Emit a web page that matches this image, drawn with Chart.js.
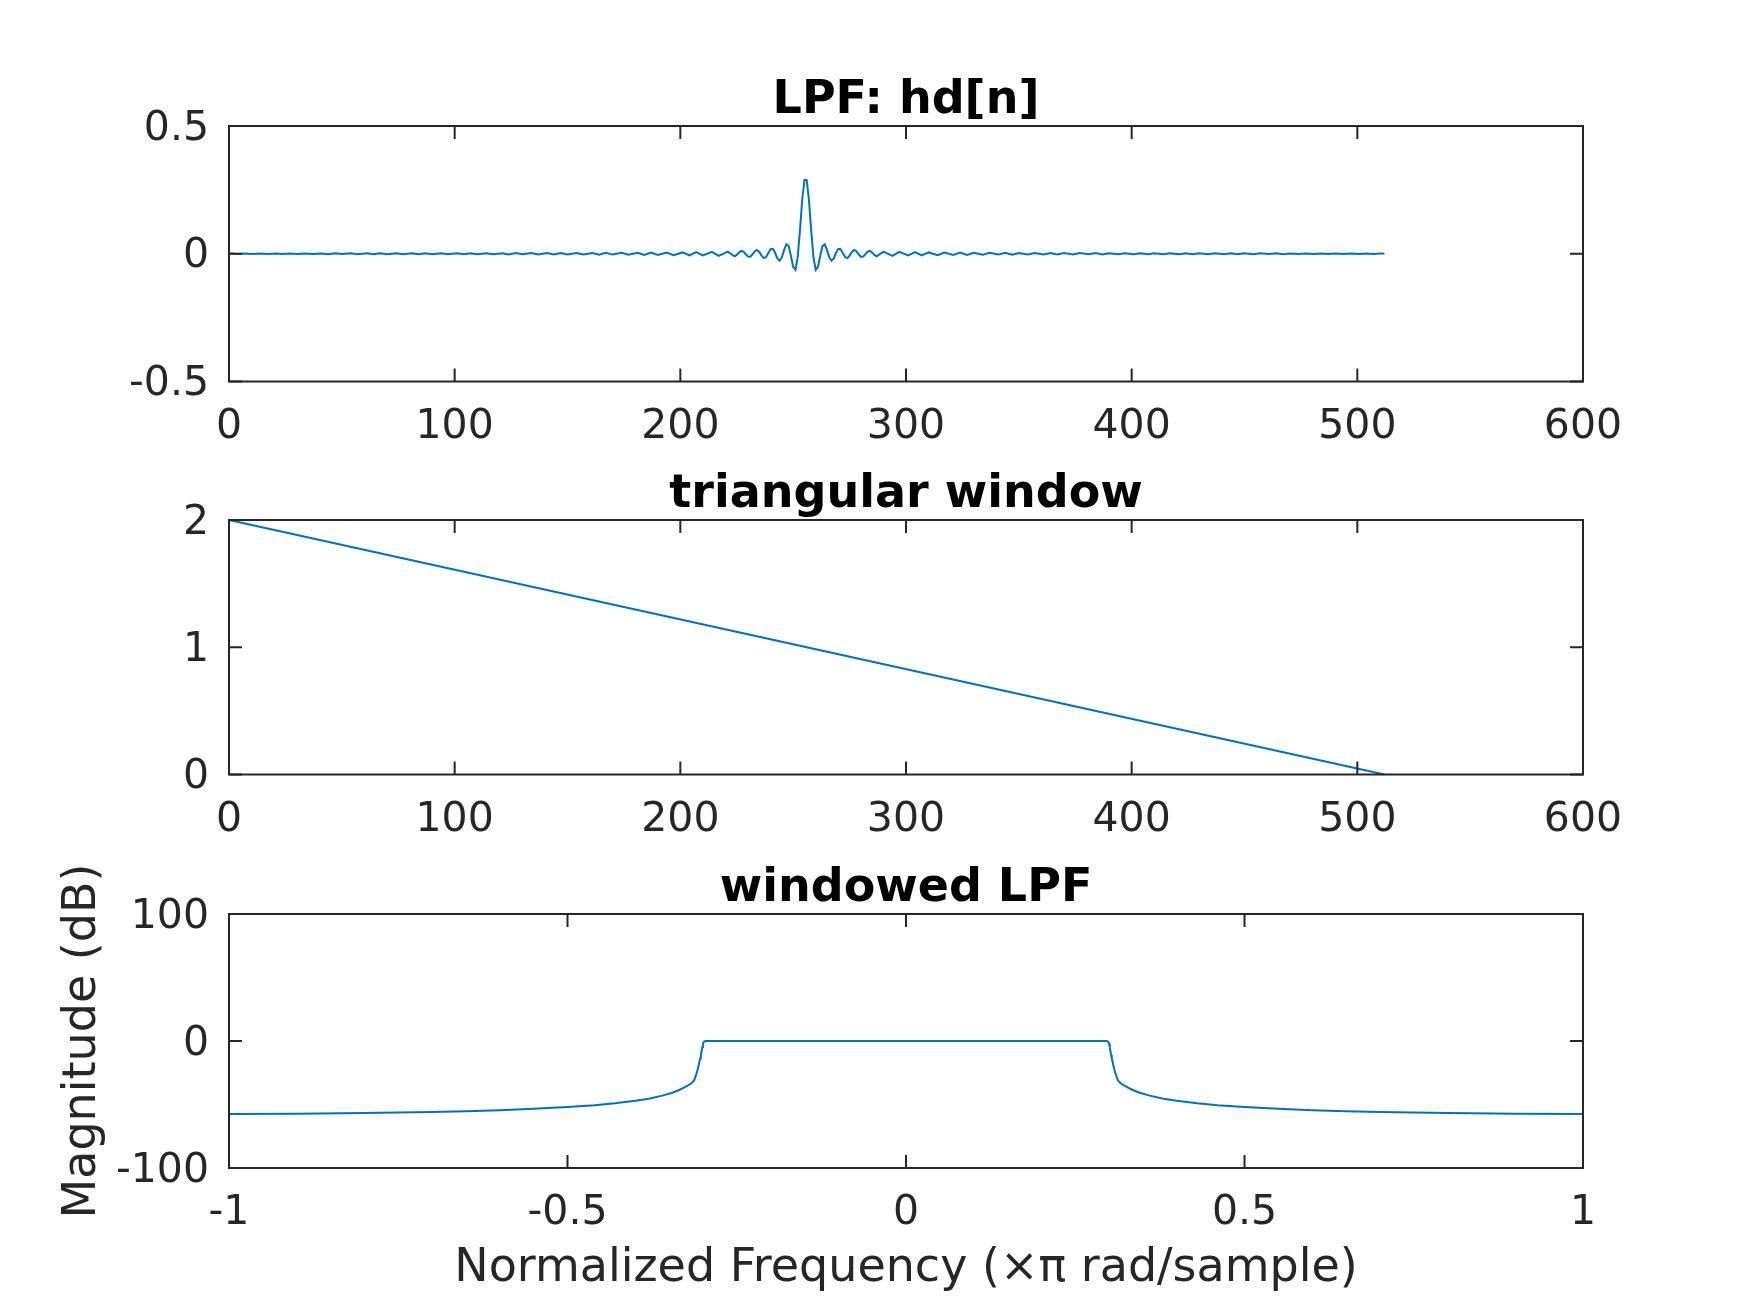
<!DOCTYPE html>
<html>
<head>
<meta charset="utf-8">
<script src="https://cdn.jsdelivr.net/npm/chart.js@4.4.1/dist/chart.umd.min.js"></script>
<style>
  html, body { margin: 0; padding: 0; background: #fff; }
  body { width: 1750px; height: 1313px; position: relative; overflow: hidden; }
  canvas { position: absolute; left: 0; top: 0; }
</style>
</head>
<body>
<canvas id="hdChart" width="1750" height="1313"></canvas>
<canvas id="winChart" width="1750" height="1313"></canvas>
<canvas id="respChart" width="1750" height="1313"></canvas>
<script>
// LPF hd[n]: sample index and value
// (centre sits between n=255 and n=256)
const hdN = [
    0, 1, 4, 7, 10, 14, 17, 21, 24, 27,
    30, 34, 37, 41, 44, 47, 50, 54, 57, 61,
    64, 67, 70, 74, 77, 81, 84, 87, 90, 94,
    97, 101, 104, 107, 110, 114, 117, 121, 124, 127,
    130, 134, 137, 141, 144, 147, 150, 154, 157, 161,
    164, 167, 170, 174, 177, 181, 184, 187, 190, 194,
    197, 201, 204, 207, 210, 214, 217, 221, 224,
    225, 226, 227, 228, 229, 230, 231, 232, 233, 234,
    235, 236, 237, 238, 239, 240, 241, 242, 243, 244,
    245, 246, 247, 248, 249, 250, 251, 252, 253, 254, 255,
    256, 257, 258, 259, 260, 261, 262, 263, 264, 265,
    266, 267, 268, 269, 270, 271, 272, 273, 274, 275,
    276, 277, 278, 279, 280, 281, 282, 283, 284, 285, 286,
    287, 290, 294, 297, 301, 304, 307, 310, 314, 317,
    321, 324, 327, 330, 334, 337, 341, 344, 347, 350,
    354, 357, 361, 364, 367, 370, 374, 377, 381, 384,
    387, 390, 394, 397, 401, 404, 407, 410, 414, 417,
    421, 424, 427, 430, 434, 437, 441, 444, 447, 450,
    454, 457, 461, 464, 467, 470, 474, 477, 481, 484,
    487, 490, 494, 497, 501, 504, 507, 510, 511, 512
];
const hdVal = [
    0.0011, 0.0011, -0.0013, 0.0013, -0.0012, 0.0013, -0.0013, 0.0012, -0.0014, 0.0014,
    -0.0013, 0.0014, -0.0014, 0.0013, -0.0015, 0.0015, -0.0014, 0.0016, -0.0016, 0.0015,
    -0.0016, 0.0017, -0.0015, 0.0017, -0.0018, 0.0016, -0.0018, 0.0019, -0.0017, 0.0019,
    -0.0020, 0.0018, -0.0021, 0.0021, -0.0019, 0.0022, -0.0023, 0.0021, -0.0024, 0.0024,
    -0.0023, 0.0026, -0.0027, 0.0025, -0.0028, 0.0029, -0.0027, 0.0031, -0.0032, 0.0030,
    -0.0034, 0.0036, -0.0033, 0.0039, -0.0040, 0.0038, -0.0044, 0.0046, -0.0043, 0.0051,
    -0.0054, 0.0052, -0.0061, 0.0065, -0.0062, 0.0076, -0.0082, 0.0082, -0.0100,
    -0.0047, 0.0049, 0.0110, 0.0082, -0.0019, -0.0111, -0.0116, -0.0021, 0.0100, 0.0146,
    0.0070, -0.0074, -0.0170, -0.0129, 0.0030, 0.0183, 0.0196, 0.0037, -0.0180, -0.0273,
    -0.0138, 0.0152, 0.0370, 0.0300, -0.0077, -0.0516, -0.0630, -0.0142, 0.0900, 0.2096, 0.2890,
    0.2890, 0.2096, 0.0900, -0.0142, -0.0630, -0.0516, -0.0077, 0.0300, 0.0370, 0.0152,
    -0.0138, -0.0273, -0.0180, 0.0037, 0.0196, 0.0183, 0.0030, -0.0129, -0.0170, -0.0074,
    0.0070, 0.0146, 0.0100, -0.0021, -0.0116, -0.0111, -0.0019, 0.0082, 0.0110, 0.0049, -0.0047,
    -0.0100, 0.0082, -0.0082, 0.0076, -0.0062, 0.0065, -0.0061, 0.0052, -0.0054, 0.0051,
    -0.0043, 0.0046, -0.0044, 0.0038, -0.0040, 0.0039, -0.0033, 0.0036, -0.0034, 0.0030,
    -0.0032, 0.0031, -0.0027, 0.0029, -0.0028, 0.0025, -0.0027, 0.0026, -0.0023, 0.0024,
    -0.0024, 0.0021, -0.0023, 0.0022, -0.0019, 0.0021, -0.0021, 0.0018, -0.0020, 0.0019,
    -0.0017, 0.0019, -0.0018, 0.0016, -0.0018, 0.0017, -0.0015, 0.0017, -0.0016, 0.0015,
    -0.0016, 0.0016, -0.0014, 0.0015, -0.0015, 0.0013, -0.0014, 0.0014, -0.0013, 0.0014,
    -0.0014, 0.0012, -0.0013, 0.0013, -0.0012, 0.0013, -0.0013, 0.0011, 0.0011, 0.0002
];

// triangular window: straight line from n=0 to n=512
const winN = [0, 512];
const winVal = [2, 0];

// windowed LPF magnitude response (dB) against normalized frequency
const freqX = [
    -1, -0.9, -0.8, -0.7, -0.65, -0.6, -0.55, -0.5, -0.46, -0.43,
    -0.4, -0.38, -0.36, -0.345, -0.335, -0.328, -0.322, -0.317, -0.313, -0.31,
    -0.308, -0.306, -0.304, -0.303, -0.302, -0.301, -0.3, -0.2985, -0.2965,
    0.2965, 0.2985, 0.3, 0.301, 0.302, 0.303, 0.304, 0.306, 0.308,
    0.31, 0.313, 0.317, 0.322, 0.328, 0.335, 0.345, 0.36, 0.38, 0.4,
    0.43, 0.46, 0.5, 0.55, 0.6, 0.65, 0.7, 0.8, 0.9, 1
];
const magDb = [
    -57.5, -57.2, -56.7, -55.9, -55.3, -54.5, -53.4, -52, -50.5, -49,
    -47.1, -45.4, -43, -40.7, -38.6, -36.8, -35, -33.3, -31, -26.5,
    -23, -18.5, -13.5, -11, -8, -5, -2, -0.8, 0,
    0, -0.8, -2, -5, -8, -11, -13.5, -18.5, -23,
    -26.5, -31, -33.3, -35, -36.8, -38.6, -40.7, -43, -45.4, -47.1,
    -49, -50.5, -52, -53.4, -54.5, -55.3, -55.9, -56.7, -57.2, -57.5
];

const hdTicksX = [0, 100, 200, 300, 400, 500, 600];
const hdTicksY = [-0.5, 0, 0.5];
const winTicksY = [0, 1, 2];
const respTicksX = [-1, -0.5, 0, 0.5, 1];
const respTicksY = [-100, 0, 100];

const lineColor = "#0072BD";
const axisColor = "#262626";
const fontFamily = "'DejaVu Sans', 'Liberation Sans', sans-serif";

function toPoints(xs, ys) {
    return xs.map((x, i) => ({ x: x, y: ys[i] }));
}

// MATLAB style box with inward ticks on all four sides
const boxPlugin = {
    id: "matBox",
    afterDraw(chart) {
        const ctx = chart.ctx;
        const a = chart.chartArea;
        const xs = chart.scales.x;
        const ys = chart.scales.y;
        const len = 13;
        ctx.save();
        ctx.strokeStyle = axisColor;
        ctx.lineWidth = 2;
        ctx.beginPath();
        xs.ticks.forEach(t => {
            const px = xs.getPixelForValue(t.value);
            ctx.moveTo(px, a.bottom);
            ctx.lineTo(px, a.bottom - len);
            ctx.moveTo(px, a.top);
            ctx.lineTo(px, a.top + len);
        });
        ys.ticks.forEach(t => {
            const py = ys.getPixelForValue(t.value);
            ctx.moveTo(a.left, py);
            ctx.lineTo(a.left + len, py);
            ctx.moveTo(a.right, py);
            ctx.lineTo(a.right - len, py);
        });
        ctx.stroke();
        ctx.strokeRect(a.left, a.top, a.right - a.left, a.bottom - a.top);
        ctx.restore();
    }
};

function makePanel(id, cfg) {
    const ctx = document.getElementById(id).getContext("2d");
    return new Chart(ctx, {
        type: "line",
        data: {
            datasets: [{
                data: toPoints(cfg.xs, cfg.ys),
                borderColor: lineColor,
                borderWidth: 2,
                pointRadius: 0,
                tension: 0,
                fill: false,
                clip: 3,
            }]
        },
        options: {
            responsive: false,
            animation: false,
            events: [],
            layout: {
                padding: { left: 0, right: 167, top: cfg.padTop, bottom: cfg.padBottom }
            },
            plugins: {
                legend: { display: false },
                tooltip: { enabled: false },
                title: {
                    display: true,
                    text: cfg.title,
                    fullSize: false,
                    color: "#000",
                    font: { family: fontFamily, size: 46, weight: "bold", lineHeight: 1.0 },
                    padding: { top: 0, bottom: 2 },
                }
            },
            scales: {
                x: {
                    type: "linear",
                    min: cfg.xMin,
                    max: cfg.xMax,
                    afterBuildTicks: s => { s.ticks = cfg.xTicks.map(v => ({ value: v })); },
                    afterFit: s => { s.height = cfg.xHeight; },
                    grid: { display: false, drawTicks: false },
                    border: { display: false },
                    ticks: {
                        autoSkip: false,
                        maxRotation: 0,
                        padding: 21,
                        color: axisColor,
                        font: { family: fontFamily, size: 41 },
                        callback: v => String(v),
                    },
                    title: cfg.xTitle ? {
                        display: true,
                        text: cfg.xTitle,
                        color: axisColor,
                        font: { family: fontFamily, size: 46 },
                        padding: { top: 0, bottom: 16 },
                    } : { display: false },
                },
                y: {
                    type: "linear",
                    min: cfg.yMin,
                    max: cfg.yMax,
                    afterBuildTicks: s => { s.ticks = cfg.yTicks.map(v => ({ value: v })); },
                    afterFit: s => { s.width = 229; },
                    grid: { display: false, drawTicks: false },
                    border: { display: false },
                    ticks: {
                        autoSkip: false,
                        padding: 20,
                        labelOffset: 3,
                        color: axisColor,
                        font: { family: fontFamily, size: 41 },
                        callback: v => String(v),
                    },
                    title: cfg.yTitle ? {
                        display: true,
                        text: cfg.yTitle,
                        color: axisColor,
                        font: { family: fontFamily, size: 46 },
                        padding: { top: 55, bottom: 0 },
                    } : { display: false },
                }
            }
        },
        plugins: [boxPlugin]
    });
}

makePanel("hdChart", {
    xs: hdN, ys: hdVal, title: "LPF: hd[n]",
    xMin: 0, xMax: 600, yMin: -0.5, yMax: 0.5,
    xTicks: hdTicksX, yTicks: hdTicksY,
    padTop: 78, padBottom: 851.5, xHeight: 80,
});

makePanel("winChart", {
    xs: winN, ys: winVal, title: "triangular window",
    xMin: 0, xMax: 600, yMin: 0, yMax: 2,
    xTicks: hdTicksX, yTicks: winTicksY,
    padTop: 472, padBottom: 458.5, xHeight: 80,
});

makePanel("respChart", {
    xs: freqX, ys: magDb, title: "windowed LPF",
    xMin: -1, xMax: 1, yMin: -100, yMax: 100,
    xTicks: respTicksX, yTicks: respTicksY,
    xTitle: "Normalized Frequency (\u00d7\u03c0 rad/sample)",
    yTitle: "Magnitude (dB)",
    padTop: 866, padBottom: 0, xHeight: 145,
});
</script>
</body>
</html>
